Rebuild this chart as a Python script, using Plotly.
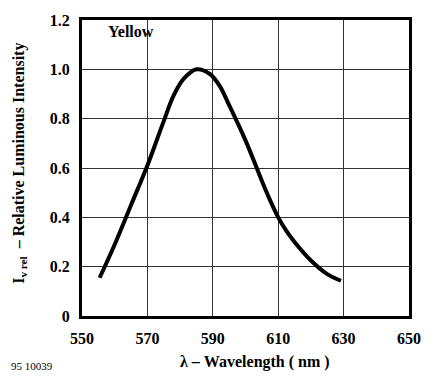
import plotly.graph_objects as go

wavelength = [555.4, 560, 565, 570, 575, 578, 581, 585, 589, 592, 595,
              600, 605, 607.5, 610, 612.5, 615, 620, 625, 629.2]
intensity = [0.155, 0.29, 0.45, 0.61, 0.79, 0.893, 0.96, 1.0, 0.982, 0.935, 0.855,
             0.712, 0.548, 0.47, 0.40, 0.345, 0.30, 0.225, 0.17, 0.143]

x_ticks = [550, 570, 590, 610, 630, 650]
y_ticks = [0, 0.2, 0.4, 0.6, 0.8, 1.0, 1.2]
y_tick_text = ["0", "0.2", "0.4", "0.6", "0.8", "1.0", "1.2"]

font = "Liberation Serif"

fig = go.Figure()
fig.add_trace(go.Scatter(x=wavelength, y=intensity, mode="lines",
                         line=dict(color="black", width=4, shape="spline", smoothing=1.0),
                         showlegend=False))

fig.update_layout(
    width=433, height=377,
    margin=dict(l=82, r=15, t=14, b=61),
    paper_bgcolor="white", plot_bgcolor="white",
    font=dict(family=font, color="black", size=14),
    xaxis=dict(range=[550, 650], tickvals=x_ticks, ticktext=[f"<b>{v}</b>" for v in x_ticks],
               showgrid=True, gridcolor="#333", gridwidth=1,
               showline=True, linecolor="black", linewidth=3, mirror=True,
               ticks="", zeroline=False, tickfont=dict(size=16), ticklabelstandoff=6),
    yaxis=dict(range=[0, 1.2], tickvals=y_ticks, ticktext=[f"<b>{t}</b>" for t in y_tick_text],
               showgrid=True, gridcolor="#333", gridwidth=1,
               showline=True, linecolor="black", linewidth=3, mirror=True,
               ticks="", zeroline=False, tickfont=dict(size=16), ticklabelstandoff=6),
    annotations=[
        dict(text="<b>Yellow</b>", x=(107 - 82) / 336, y=(316 - 26) / 302, xref="paper", yref="paper",
             xanchor="left", yanchor="middle", showarrow=False, font=dict(size=16)),
        dict(text="<b>λ – Wavelength ( nm )</b>", x=(260 - 82) / 336, y=-(363 - 316) / 302,
             xref="paper", yref="paper", xanchor="center", yanchor="middle",
             showarrow=False, font=dict(size=16)),
        dict(text="<b>I<sub>v rel</sub>  – Relative Luminous Intensity</b>", x=-(82 - 17) / 336,
             y=(316 - 160) / 302, xref="paper", yref="paper", textangle=-90, showarrow=False,
             xanchor="center", yanchor="middle", font=dict(size=16)),
        dict(text="95 10039", x=-(82 - 7) / 336, y=-(367 - 316) / 302, xref="paper", yref="paper",
             xanchor="left", yanchor="middle", showarrow=False, font=dict(size=11)),
    ],
)

fig.write_html("out.html")
